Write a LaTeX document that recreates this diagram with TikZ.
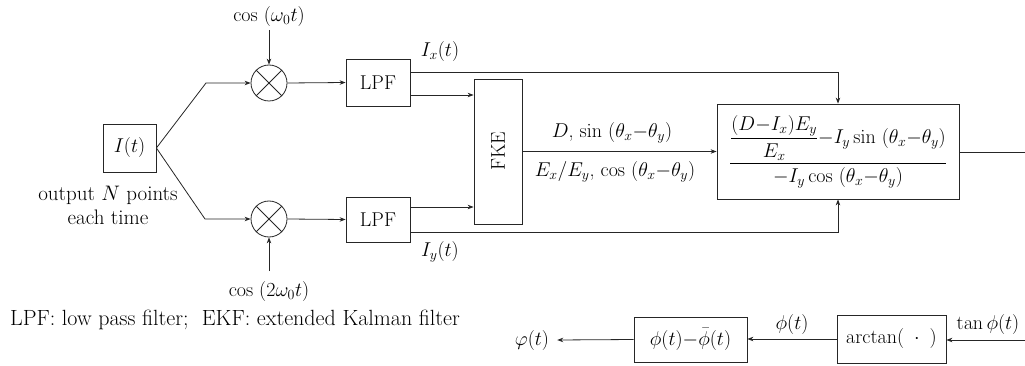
\RequirePackage{fix-cm}
\documentclass[tikz,border=0pt]{standalone}
\usepackage{amsmath}
\usetikzlibrary{arrows.meta,calc}
\begin{document}
\begin{tikzpicture}[x=1pt,y=-1pt,
  every node/.style={font=\fontsize{20}{24}\selectfont},
  boxtext/.style={font=\fontsize{20}{24}\selectfont},
  bigtext/.style={font=\fontsize{21}{24}\selectfont},
  legtext/.style={font=\fontsize{22}{24}\selectfont},
  wire/.style={line width=0.8pt,draw=black!85},
  arr/.style={wire,-{Stealth[length=6pt,width=4.5pt]}},
  blk/.style={draw=black!85,line width=0.8pt,rectangle,inner sep=0pt},
  mult/.style={draw=black!85,line width=0.8pt,circle,minimum size=36pt,inner sep=0pt},
  lbl/.style={inner sep=0pt}]
\useasboundingbox (0,0) rectangle (1025,366);
% blocks
\node[blk,minimum width=53pt,minimum height=48pt] (It) at (129.5,148) {$I(t)$};
\node[mult] (m1) at (269,83) {};
\node[mult] (m2) at (269,219) {};
\draw[wire] (m1.45)--(m1.225) (m1.135)--(m1.315);
\draw[wire] (m2.45)--(m2.225) (m2.135)--(m2.315);
\node[blk,boxtext,minimum width=64pt,minimum height=47pt] (L1) at (378,82.5) {LPF};
\node[blk,boxtext,minimum width=64pt,minimum height=45pt] (L2) at (378,219.5) {LPF};
\node[blk,boxtext,minimum width=48pt,minimum height=145pt] (F) at (498,151.5) {\rotatebox{90}{FKE}};
\node[blk,minimum width=242pt,minimum height=95pt] (B) at (838,151.5)
  {$\dfrac{\dfrac{(D{-}I_x)E_y}{E_x}{-}I_y\sin\ (\theta_x{-}\theta_y)}{-I_y\cos\ (\theta_x{-}\theta_y)}$};
\node[blk,boxtext,minimum width=109pt,minimum height=48pt] (A) at (891.5,339) {arctan(\hspace{10pt}$\cdot$\hspace{10pt})};
\node[blk,minimum width=113pt,minimum height=45pt] (P) at (690.5,339.5) {$\phi(t){-}\bar{\phi}(t)$};
% labels
\node[lbl] (c1) at (269,17) {$\cos\ (\omega_0t)$};
\node[lbl] (c2) at (269,291) {$\cos\ (2\omega_0t)$};
\node[lbl,bigtext,align=center] (on) at (108,205) {output $N$ points\\each time};
\node[lbl] (lx) at (440,52) {$I_x(t)$};
\node[lbl] (ly) at (440,252) {$I_y(t)$};
\node[lbl] (ld) at (612,133) {$D$, $\sin\ (\theta_x{-}\theta_y)$};
\node[lbl] (le) at (615,172) {$E_x/E_y$, $\cos\ (\theta_x{-}\theta_y)$};
\node[lbl,legtext] (leg) at (235,320) {LPF: low pass filter;\ \ EKF: extended Kalman filter};
\node[lbl] (lt) at (988,324) {$\tan\phi(t)$};
\node[lbl] (lp) at (792,324) {$\phi(t)$};
\node[lbl] (out) at (532,340) {$\varphi(t)$};
% coordinates
\coordinate (k1) at (206,83);
\coordinate (k2) at (205,219);
\coordinate (y72) at (400,72);
\coordinate (y95) at (400,95);
\coordinate (y207) at (400,207);
\coordinate (y232) at (400,232);
\coordinate (eR) at (1025,152);
\coordinate (eR2) at (1025,340);
% connectors
\draw[arr] (It.east) -- (k1) -- (m1.west);
\draw[arr] (It.east) -- (k2) -- (m2.west);
\draw[arr] (c1.south |- 0,30) -- (m1.north);
\draw[arr] (c2.north |- 0,271) -- (m2.south);
\draw[arr] (m1.east) -- (L1.west);
\draw[arr] (m2.east) -- (L2.west);
\draw[arr] (L1.east |- y72) -| (B.north);
\draw[arr] (L1.east |- y95) -- (F.west |- y95);
\draw[arr] (L2.east |- y207) -- (F.west |- y207);
\draw[arr] (L2.east |- y232) -| (B.south);
\draw[arr] (F.east |- B.west) -- (B.west);
\draw[wire] (B.east |- eR) -- (eR);
\draw[arr] (eR2) -- (A.east |- eR2);
\draw[arr] (A.west) -- (P.east |- A.west);
\draw[arr] (P.west) -- ($(out.east)+(8,0)$);
\end{tikzpicture}
\end{document}
